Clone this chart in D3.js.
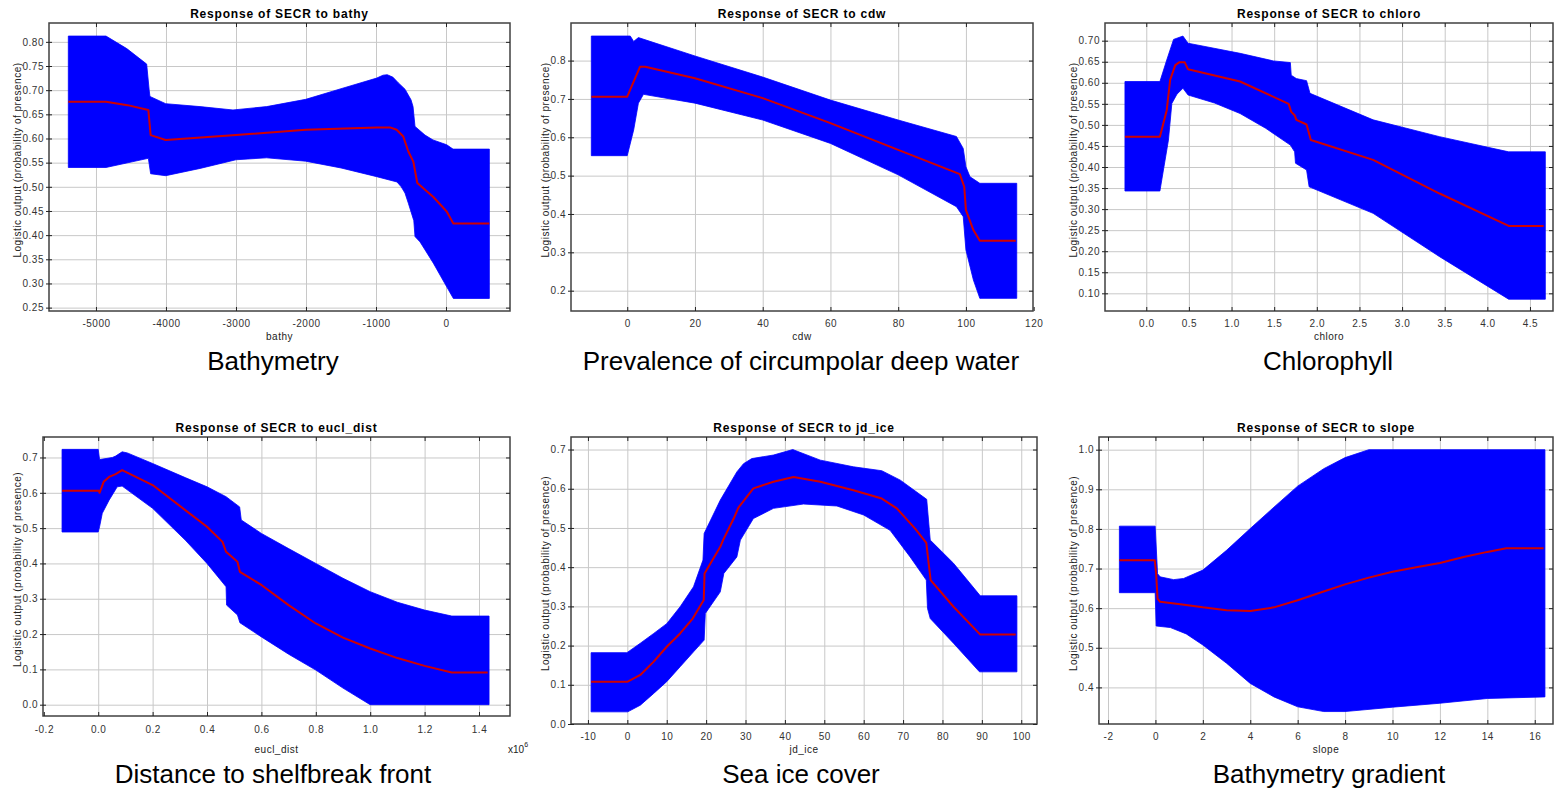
<!DOCTYPE html>
<html>
<head>
<meta charset="utf-8">
<script src="https://d3js.org/d3.v7.min.js"></script>
<style>
  body { margin: 0; background: #fff; }
  text { font-family: "Liberation Sans", Arial, sans-serif; }
</style>
</head>
<body>
<div id="chart"></div>
<script>
// response curves: [x, logistic output]
var bathyUpper = [[-5395,0.812],[-4857,0.812],[-4560,0.786],[-4276,0.754],[-4240,0.700],[-4229,0.687],[-4004,0.672],[-3514,0.666],[-3043,0.659],[-2562,0.666],[-2004,0.681],[-1500,0.703],[-990,0.725],[-900,0.731],[-840,0.732],[-760,0.727],[-680,0.715],[-586,0.702],[-500,0.680],[-471,0.666],[-443,0.625],[-300,0.607],[-186,0.597],[10,0.587],[100,0.578],[619,0.578]];
var bathyMean = [[-5395,0.676],[-4857,0.676],[-4550,0.669],[-4252,0.659],[-4219,0.607],[-4004,0.597],[-3000,0.607],[-2004,0.618],[-990,0.623],[-800,0.623],[-705,0.618],[-610,0.604],[-538,0.573],[-467,0.552],[-410,0.508],[-181,0.479],[10,0.449],[105,0.424],[619,0.424]];
var bathyLower = [[-5395,0.540],[-4857,0.540],[-4252,0.559],[-4219,0.527],[-4004,0.523],[-3514,0.538],[-3000,0.556],[-2562,0.560],[-2004,0.553],[-1500,0.539],[-990,0.521],[-700,0.510],[-640,0.500],[-586,0.487],[-538,0.466],[-460,0.430],[-443,0.397],[-371,0.386],[-181,0.342],[10,0.293],[105,0.269],[619,0.269]];

var cdwUpper = [[-10.6,0.864],[0.9,0.864],[1.9,0.850],[3.3,0.860],[20,0.812],[40,0.757],[60,0.697],[80,0.645],[97.2,0.602],[99.2,0.571],[100,0.523],[101.2,0.497],[104.1,0.480],[115,0.480]];
var cdwMean = [[-10.6,0.706],[0,0.706],[3.8,0.784],[5.3,0.784],[20,0.754],[40,0.702],[60,0.637],[80,0.567],[98.2,0.504],[99.5,0.471],[100,0.410],[102.2,0.358],[104.1,0.330],[114.7,0.330]];
var cdwLower = [[-10.6,0.552],[0,0.552],[1.9,0.619],[3.3,0.689],[4.8,0.712],[20,0.689],[40,0.645],[60,0.584],[80,0.502],[97.2,0.419],[99.2,0.393],[100,0.306],[102.2,0.228],[104.1,0.180],[115,0.180]];

var chloroUpper = [[-0.25,0.603],[0.16,0.603],[0.24,0.654],[0.32,0.703],[0.43,0.711],[0.49,0.694],[1.10,0.670],[1.49,0.652],[1.69,0.648],[1.70,0.618],[1.76,0.610],[1.88,0.605],[1.92,0.575],[2.66,0.512],[3.44,0.472],[4.25,0.436],[4.68,0.436]];
var chloroMean = [[-0.25,0.472],[0.16,0.472],[0.24,0.535],[0.28,0.607],[0.34,0.642],[0.39,0.649],[0.45,0.649],[0.49,0.632],[1.10,0.603],[1.67,0.550],[1.70,0.531],[1.74,0.523],[1.76,0.512],[1.88,0.501],[1.93,0.464],[2.66,0.417],[3.44,0.337],[4.25,0.260],[4.66,0.260]];
var chloroLower = [[-0.25,0.343],[0.16,0.343],[0.26,0.464],[0.30,0.551],[0.36,0.573],[0.43,0.587],[0.49,0.571],[0.80,0.552],[1.10,0.527],[1.40,0.492],[1.69,0.452],[1.74,0.436],[1.75,0.409],[1.88,0.393],[1.91,0.353],[2.66,0.290],[3.44,0.187],[4.25,0.086],[4.68,0.086]];

var euclUpper = [[-0.133,0.723],[0.0,0.723],[0.005,0.694],[0.052,0.700],[0.064,0.704],[0.088,0.716],[0.107,0.713],[0.2,0.683],[0.32,0.643],[0.4,0.617],[0.47,0.589],[0.52,0.560],[0.526,0.523],[0.6,0.485],[0.7,0.442],[0.8,0.400],[0.9,0.358],[1.0,0.320],[1.1,0.290],[1.2,0.268],[1.3,0.251],[1.437,0.251]];
var euclMean = [[-0.133,0.606],[0.002,0.606],[0.005,0.600],[0.02,0.631],[0.04,0.645],[0.064,0.653],[0.088,0.664],[0.2,0.622],[0.32,0.551],[0.4,0.504],[0.457,0.461],[0.47,0.433],[0.512,0.405],[0.521,0.376],[0.6,0.339],[0.7,0.282],[0.8,0.230],[0.9,0.190],[1.0,0.159],[1.1,0.132],[1.2,0.110],[1.3,0.091],[1.432,0.091]];
var euclLower = [[-0.133,0.489],[0.0,0.489],[0.005,0.504],[0.015,0.542],[0.04,0.579],[0.070,0.617],[0.088,0.619],[0.2,0.556],[0.32,0.466],[0.4,0.400],[0.470,0.334],[0.472,0.282],[0.512,0.254],[0.521,0.232],[0.6,0.192],[0.7,0.143],[0.8,0.098],[0.9,0.047],[1.0,0.0],[1.437,0.0]];

var iceUpper = [[-9.2,0.182],[-0.1,0.182],[3.3,0.206],[6.7,0.231],[10,0.256],[13.4,0.299],[16.8,0.350],[19.2,0.418],[19.5,0.486],[23.6,0.571],[27.8,0.643],[29.5,0.664],[31.6,0.677],[37.1,0.686],[42,0.700],[49,0.673],[57.4,0.656],[64.6,0.646],[69.3,0.622],[76,0.573],[76.9,0.469],[82.8,0.410],[89.6,0.327],[98.9,0.327]];
var iceMean = [[-9.2,0.108],[0.1,0.108],[3.3,0.125],[6.7,0.159],[10,0.197],[13.4,0.231],[16.6,0.269],[19.4,0.316],[19.6,0.384],[23.6,0.452],[24.3,0.469],[27,0.524],[28.2,0.552],[32,0.601],[37.1,0.618],[42.2,0.630],[49,0.618],[57.4,0.596],[64.6,0.575],[68.4,0.550],[73,0.499],[75.9,0.462],[76.5,0.409],[77,0.367],[82.8,0.299],[89.6,0.228],[98.6,0.228]];
var iceLower = [[-9.2,0.031],[0.1,0.031],[3.3,0.048],[6.7,0.078],[10,0.108],[13.4,0.146],[16.8,0.184],[19.5,0.214],[19.8,0.282],[23.6,0.337],[24.5,0.384],[27.8,0.426],[28.7,0.469],[32,0.524],[37.1,0.550],[44.7,0.561],[53.2,0.556],[60,0.533],[66.7,0.494],[71.8,0.426],[75.9,0.367],[76.2,0.295],[76.9,0.269],[82.8,0.206],[89.4,0.133],[98.9,0.133]];

var slopeUpper = [[-1.52,0.807],[-0.01,0.807],[0.09,0.687],[0.2,0.679],[0.77,0.672],[1.19,0.675],[2.0,0.696],[3.0,0.746],[4.0,0.801],[5.0,0.855],[6.0,0.908],[7.1,0.952],[8.0,0.980],[9.0,1.0],[16.43,1.0]];
var slopeMean = [[-1.52,0.721],[-0.03,0.721],[0.03,0.687],[0.09,0.624],[0.2,0.616],[1.05,0.610],[2.0,0.602],[3.0,0.595],[4.0,0.593],[5.0,0.602],[6.0,0.620],[7.0,0.640],[8.0,0.660],[9.0,0.677],[10.0,0.692],[11.0,0.703],[12.0,0.714],[13.0,0.729],[14.0,0.742],[14.8,0.751],[16.37,0.751]];
var slopeLower = [[-1.52,0.639],[-0.01,0.639],[0.03,0.555],[0.63,0.551],[1.3,0.535],[2.0,0.507],[3.0,0.461],[4.0,0.410],[5.0,0.376],[6.0,0.351],[7.1,0.339],[8.0,0.339],[10.0,0.350],[12.0,0.360],[14.0,0.372],[16.43,0.376]];

// tick labels
var bathyXTicks = [-5000,-4000,-3000,-2000,-1000,0];
var bathyYTicks = [0.25,0.30,0.35,0.40,0.45,0.50,0.55,0.60,0.65,0.70,0.75,0.80];
var cdwXTicks = [0,20,40,60,80,100,120];
var cdwYTicks = [0.2,0.3,0.4,0.5,0.6,0.7,0.8];
var chloroXTicks = [0.0,0.5,1.0,1.5,2.0,2.5,3.0,3.5,4.0,4.5];
var chloroYTicks = [0.10,0.15,0.20,0.25,0.30,0.35,0.40,0.45,0.50,0.55,0.60,0.65,0.70];
var euclXTicks = [-0.2,0.0,0.2,0.4,0.6,0.8,1.0,1.2,1.4];
var euclYTicks = [0.0,0.1,0.2,0.3,0.4,0.5,0.6,0.7];
var iceXTicks = [-10,0,10,20,30,40,50,60,70,80,90,100];
var iceYTicks = [0.0,0.1,0.2,0.3,0.4,0.5,0.6,0.7];
var slopeXTicks = [-2,0,2,4,6,8,10,12,14,16];
var slopeYTicks = [0.4,0.5,0.6,0.7,0.8,0.9,1.0];

var variables = ["bathy", "cdw", "chloro", "eucl_dist", "jd_ice", "slope"];
var captions = ["Bathymetry", "Prevalence of circumpolar deep water", "Chlorophyll",
                "Distance to shelfbreak front", "Sea ice cover", "Bathymetry gradient"];

var loc = d3.formatLocale({decimal: ".", thousands: ",", grouping: [3], currency: ["", ""], minus: "-"});

// panel frames (pixels) and axis ranges
var panels = [
  {l: 49, r: 510, t: 23, b: 311, xd: [-5671, 914], yd: [0.243, 0.839], xf: "d", yf: ".2f",
   up: bathyUpper, mid: bathyMean, lo: bathyLower, xt: bathyXTicks, yt: bathyYTicks, ylx: 17, tl: 340, cx: 273, cy: 370},
  {l: 571, r: 1033, t: 23, b: 311, xd: [-16.6, 119.8], yd: [0.147, 0.898], xf: "d", yf: ".1f",
   up: cdwUpper, mid: cdwMean, lo: cdwLower, xt: cdwXTicks, yt: cdwYTicks, ylx: 545, tl: 340, cx: 801, cy: 370},
  {l: 1105, r: 1553, t: 23, b: 311, xd: [-0.484, 4.77], yd: [0.058, 0.742], xf: ".1f", yf: ".2f",
   up: chloroUpper, mid: chloroMean, lo: chloroLower, xt: chloroXTicks, yt: chloroYTicks, ylx: 1073, tl: 340, cx: 1328, cy: 370},
  {l: 43, r: 510, t: 437, b: 716, xd: [-0.203, 1.514], yd: [-0.032, 0.758], xf: ".1f", yf: ".1f",
   up: euclUpper, mid: euclMean, lo: euclLower, xt: euclXTicks, yt: euclYTicks, ylx: 17, tl: 753, cx: 273, cy: 783},
  {l: 571, r: 1037, t: 437, b: 724, xd: [-14.3, 104], yd: [0.0, 0.732], xf: "d", yf: ".1f",
   up: iceUpper, mid: iceMean, lo: iceLower, xt: iceXTicks, yt: iceYTicks, ylx: 545, tl: 753, cx: 801, cy: 783},
  {l: 1099, r: 1553, t: 437, b: 724, xd: [-2.38, 16.77], yd: [0.3076, 1.032], xf: "d", yf: ".1f",
   up: slopeUpper, mid: slopeMean, lo: slopeLower, xt: slopeXTicks, yt: slopeYTicks, ylx: 1073, tl: 753, cx: 1329, cy: 783}
];

var svg = d3.select("#chart")
  .append("svg")
    .attr("width", 1555)
    .attr("height", 794);

panels.forEach(function(p, i) {
  var x = d3.scaleLinear().domain(p.xd).range([p.l, p.r]);
  var y = d3.scaleLinear().domain(p.yd).range([p.b, p.t]);
  var w = p.r - p.l, h = p.b - p.t;
  var g = svg.append("g");

  // grid
  g.append("g")
    .attr("transform", "translate(" + p.l + ",0)")
    .call(d3.axisLeft(y).tickValues(p.yt).tickSize(-w).tickFormat(""))
    .call(function(a) { a.select(".domain").remove(); })
    .selectAll("line").attr("stroke", "#c8c8c8");
  g.append("g")
    .attr("transform", "translate(0," + p.b + ")")
    .call(d3.axisBottom(x).tickValues(p.xt.filter(function(v) { return x(v) < p.r - 1 && x(v) > p.l + 1; })).tickSize(-h).tickFormat(""))
    .call(function(a) { a.select(".domain").remove(); })
    .selectAll("line").attr("stroke", "#c8c8c8");

  // confidence band: upper edge forward, lower edge back
  var line = d3.line()
    .x(function(d) { return x(d[0]); })
    .y(function(d) { return y(d[1]); });
  g.append("path")
    .attr("d", line(p.up.concat(p.lo.slice().reverse())) + "Z")
    .attr("fill", "#0000ff")
    .attr("stroke", "#0000ff")
    .attr("stroke-width", 0.8)
    .attr("stroke-linejoin", "round");

  // mean response
  g.append("path")
    .attr("d", line(p.mid))
    .attr("fill", "none")
    .attr("stroke", "#d00000")
    .attr("stroke-width", 2)
    .attr("stroke-linejoin", "round");

  // frame
  g.append("rect")
    .attr("x", p.l).attr("y", p.t)
    .attr("width", w).attr("height", h)
    .attr("fill", "none")
    .attr("stroke", "#404040")
    .attr("stroke-width", 1.5);

  // axes
  var yAxis = g.append("g")
    .attr("transform", "translate(" + p.l + ",0)")
    .call(d3.axisLeft(y).tickValues(p.yt).tickSizeInner(3).tickSizeOuter(0).tickPadding(3).tickFormat(loc.format(p.yf)));
  yAxis.select(".domain").remove();
  yAxis.selectAll("line").attr("stroke", "#222").attr("x2", -3).attr("x1", 3);
  yAxis.selectAll("text").attr("x", -5);

  g.append("g")
    .attr("transform", "translate(" + p.r + ",0)")
    .call(d3.axisLeft(y).tickValues(p.yt).tickSize(4).tickFormat(""))
    .call(function(a) { a.select(".domain").remove(); a.selectAll("line").attr("x2", -4).attr("stroke", "#222"); });

  var xAxis = g.append("g")
    .attr("transform", "translate(0," + p.b + ")")
    .call(d3.axisBottom(x).tickValues(p.xt).tickSizeInner(4).tickSizeOuter(0).tickFormat(loc.format(p.xf)));
  xAxis.select(".domain").remove();
  xAxis.selectAll("line").attr("stroke", "#222").attr("y2", -4);
  xAxis.selectAll("text").attr("y", i == 3 ? 10 : 9);

  g.append("g")
    .attr("transform", "translate(0," + p.t + ")")
    .call(d3.axisBottom(x).tickValues(p.xt.filter(function(v) { return x(v) < p.r; })).tickSize(4).tickFormat(""))
    .call(function(a) { a.select(".domain").remove(); a.selectAll("line").attr("stroke", "#222"); });

  g.selectAll(".tick text")
    .attr("fill", "#333")
    .style("font-size", "10px")
    .style("letter-spacing", "0.5px")
    .style("font-family", "'Liberation Sans', Arial, sans-serif");

  // titles
  g.append("text")
    .attr("x", (p.l + p.r) / 2)
    .attr("y", p.t - 5)
    .style("text-anchor", "middle")
    .style("font-size", "12px")
    .style("font-weight", "bold")
    .style("letter-spacing", "0.8px")
    .text("Response of SECR to " + variables[i]);

  g.append("text")
    .attr("transform", "translate(" + p.ylx + "," + ((p.t + p.b) / 2 - 7) + ")rotate(-90)")
    .attr("dy", "0.35em")
    .style("text-anchor", "middle")
    .style("font-size", "10px")
    .style("letter-spacing", "0.5px")
    .attr("fill", "#222")
    .text("Logistic output (probability of presence)");

  g.append("text")
    .attr("x", (p.l + p.r) / 2)
    .attr("y", p.tl)
    .style("text-anchor", "middle")
    .style("font-size", "10px")
    .style("letter-spacing", "0.5px")
    .attr("fill", "#222")
    .text(variables[i]);

  g.append("text")
    .attr("x", p.cx)
    .attr("y", p.cy)
    .style("text-anchor", "middle")
    .style("font-size", "26px")
    .text(captions[i]);
});

// scale note for eucl_dist
var note = svg.append("text")
  .attr("x", 508)
  .attr("y", 753)
  .style("font-size", "10px")
  .attr("fill", "#222")
  .text("x10");
note.append("tspan")
  .attr("dy", -6)
  .style("font-size", "7px")
  .text("6");
</script>
</body>
</html>
